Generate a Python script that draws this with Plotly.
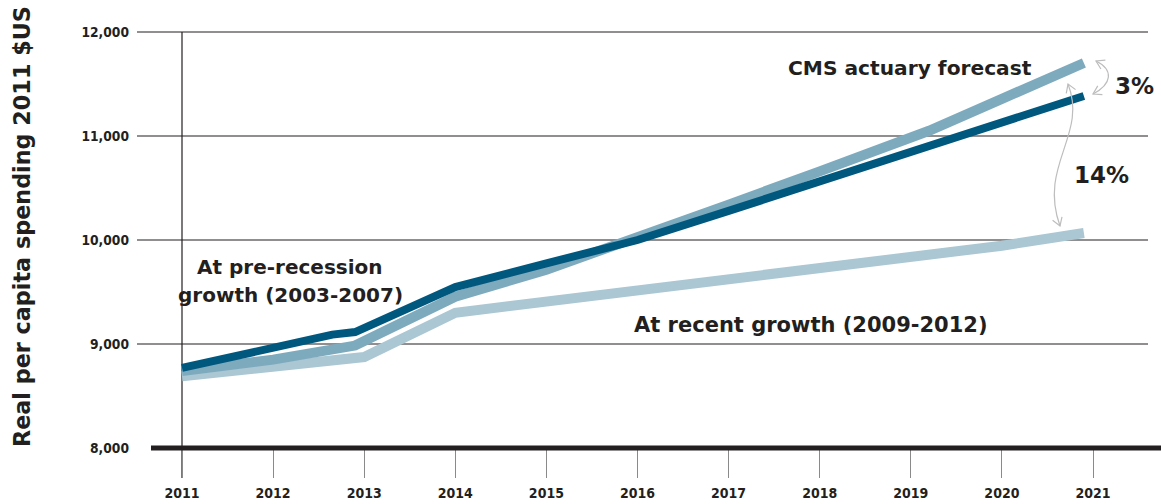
import plotly.graph_objects as go
import math

# ---------------- data ----------------
years_pre = [2011, 2012, 2012.65, 2012.9, 2014, 2015, 2016, 2017, 2018, 2019, 2020, 2020.9]
pre_recession = [8770, 8965, 9090, 9115, 9548, 9775, 10000, 10280, 10560, 10840, 11120, 11385]

years_cms = [2011, 2012, 2012.9, 2014, 2015, 2016, 2017, 2018, 2019, 2019.2, 2020, 2020.9]
cms_forecast = [8740, 8850, 8985, 9455, 9715, 10040, 10340, 10660, 10980, 11050, 11357, 11702]

years_recent = [2011, 2012, 2013.0, 2014, 2015, 2016, 2017, 2018, 2019, 2020, 2020.9]
recent_growth = [8690, 8785, 8875, 9300, 9405, 9512, 9620, 9725, 9830, 9945, 10067]

x_ticks = list(range(2011, 2022))
y_ticks = [8000, 9000, 10000, 11000, 12000]
y_tick_text = ["8,000", "9,000", "10,000", "11,000", "12,000"]

# ---------------- style ----------------
C_DARK = "#00587f"
C_MID = "#7eaabe"
C_LIGHT = "#aac7d3"
C_TEXT = "#231f20"
C_ARROW = "#bdbdbd"
FONT = "DejaVu Sans, Liberation Sans, sans-serif"
FONT_NARROW = "Liberation Sans Narrow, DejaVu Sans Condensed, Liberation Sans, sans-serif"

W, H = 1161, 504
L, R, T, B = 137, 13, 27, 26
PW, PH = W - L - R, H - T - B

fig = go.Figure()
fig.add_trace(go.Scatter(x=years_recent, y=recent_growth, mode="lines",
                         line=dict(color=C_LIGHT, width=10), hoverinfo="skip"))
fig.add_trace(go.Scatter(x=years_cms, y=cms_forecast, mode="lines",
                         line=dict(color=C_MID, width=10), hoverinfo="skip"))
fig.add_trace(go.Scatter(x=years_pre, y=pre_recession, mode="lines",
                         line=dict(color=C_DARK, width=8), hoverinfo="skip"))

shapes = []
# horizontal gridlines
for v in y_ticks[1:]:
    shapes.append(dict(type="line", xref="paper", yref="y", x0=0, x1=1, y0=v, y1=v,
                       line=dict(color=C_TEXT, width=1.2), layer="below"))
# thick baseline
shapes.append(dict(type="line", xref="paper", yref="y", x0=(151 - L) / PW, x1=(W - L) / PW,
                   y0=y_ticks[0], y1=y_ticks[0], line=dict(color=C_TEXT, width=5)))
# vertical line at first year
shapes.append(dict(type="line", xref="x", yref="paper", x0=x_ticks[0], x1=x_ticks[0],
                   y0=0, y1=(H - B - 32) / PH, line=dict(color=C_TEXT, width=1.2), layer="below"))


def pp(px, py):
    return (px - L) / PW, (H - B - py) / PH


def bez(p0, p1, p2, p3):
    a = pp(*p0); b = pp(*p1); c = pp(*p2); d = pp(*p3)
    return "M {} {} C {} {}, {} {}, {} {}".format(a[0], a[1], b[0], b[1], c[0], c[1], d[0], d[1])


def head(tip, frm, size=8, spread=5):
    dx, dy = tip[0] - frm[0], tip[1] - frm[1]
    n = math.hypot(dx, dy)
    ux, uy = dx / n, dy / n
    px_, py_ = -uy, ux
    bx, by = tip[0] - ux * size, tip[1] - uy * size
    w1 = (bx + px_ * spread, by + py_ * spread)
    w2 = (bx - px_ * spread, by - py_ * spread)
    a = pp(*w1); t = pp(*tip); c = pp(*w2)
    return "M {} {} L {} {} L {} {}".format(a[0], a[1], t[0], t[1], c[0], c[1])


arrow_line = dict(color=C_ARROW, width=1.2)
# 3% arrow
p0, p1, p2, p3 = (1096, 61), (1114, 70), (1112, 84), (1093, 94)
shapes.append(dict(type="path", xref="paper", yref="paper", path=bez(p0, p1, p2, p3), line=arrow_line))
shapes.append(dict(type="path", xref="paper", yref="paper", path=head(p0, p1), line=arrow_line))
shapes.append(dict(type="path", xref="paper", yref="paper", path=head(p3, p2), line=arrow_line))
# 14% arrow
q0, q1, q2, q3 = (1068, 84), (1088, 135), (1038, 165), (1060, 226)
shapes.append(dict(type="path", xref="paper", yref="paper", path=bez(q0, q1, q2, q3), line=arrow_line))
shapes.append(dict(type="path", xref="paper", yref="paper", path=head(q0, q1), line=arrow_line))
shapes.append(dict(type="path", xref="paper", yref="paper", path=head(q3, q2), line=arrow_line))


def txt(px, py, s, size=21):
    x, y = pp(px, py)
    return dict(xref="paper", yref="paper", x=x, y=y, text=s, showarrow=False,
                xanchor="center", yanchor="middle",
                font=dict(family=FONT, size=size, color=C_TEXT, weight="bold"))


annotations = [
    txt(910, 68, "CMS actuary forecast", 20.2),
    txt(290, 267, "At pre-recession", 20),
    txt(290, 295, "growth (2003-2007)", 20),
    txt(811, 325, "At recent growth (2009-2012)", 21),
    txt(1134, 86, "3%", 23),
    txt(1101, 175, "14%", 23),
]
ax, ay = pp(22, 227)
annotations.append(dict(xref="paper", yref="paper", x=ax, y=ay, text="Real per capita spending 2011 $US",
                        showarrow=False, textangle=-90, xanchor="center", yanchor="middle",
                        font=dict(family=FONT, size=22.3, color=C_TEXT, weight="bold")))

x0 = x_ticks[0] - (182 - L) / 91.1
x1 = x_ticks[-1] + (W - R - 1093) / 91.1
y0 = y_ticks[0] - (478 - 448) / 0.104
y1 = y_ticks[-1] + (32 - T) / 0.104

fig.update_layout(
    template="none",
    width=W, height=H, margin=dict(l=L, r=R, t=T, b=B, pad=0),
    paper_bgcolor="white", plot_bgcolor="white", showlegend=False,
    shapes=shapes, annotations=annotations,
    xaxis=dict(range=[x0, x1], tickvals=x_ticks, ticktext=[str(v) for v in x_ticks],
               showgrid=False, zeroline=False, showline=False, automargin=False,
               ticks="inside", ticklen=30, tickcolor="#8a8a8a", tickwidth=1,
               ticklabelstandoff=5,
               tickfont=dict(family=FONT_NARROW, size=14, color=C_TEXT, weight="bold")),
    yaxis=dict(range=[y0, y1], tickvals=y_ticks, ticktext=y_tick_text,
               showgrid=False, zeroline=False, showline=False, ticks="", automargin=False,
               ticklabelstandoff=7,
               tickfont=dict(family=FONT_NARROW, size=13.7, color=C_TEXT, weight="bold")),
)

fig.write_html("out.html")
